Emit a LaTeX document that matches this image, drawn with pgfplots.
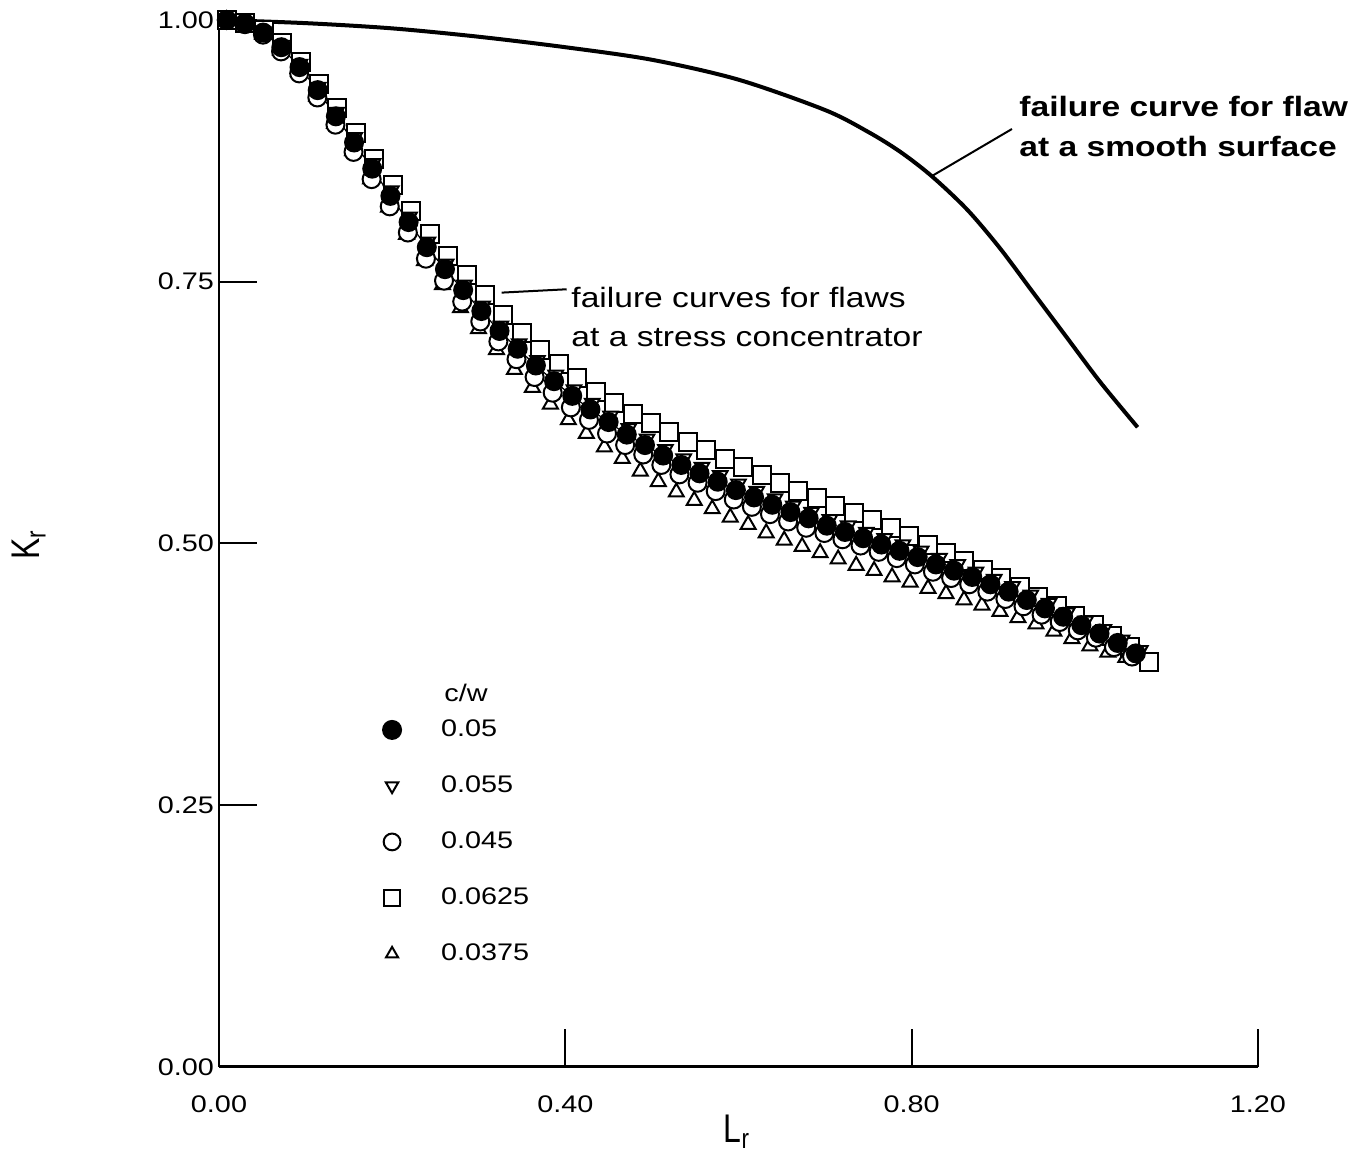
\documentclass[border=0pt]{standalone}
\usepackage{pgfplots}
\pgfplotsset{compat=1.18}
\usepackage{fontspec}
\setmainfont{Liberation Sans}[FakeStretch=1.2]
\newfontfamily\labfont{Liberation Sans}[FakeStretch=0.8]

\begin{document}
\begin{tikzpicture}
\begin{axis}[
  scale only axis, width=519.5pt, height=523.5pt,
  xmin=0, xmax=1.2, ymin=0, ymax=1,
  axis lines=left, axis line style={-, line width=1.5pt},
  clip=false,
  xtick={0,0.4,0.8,1.2}, ytick={0,0.25,0.5,0.75,1},
  tick align=inside, major tick length=19pt,
  tick style={line width=1pt, black},
  /pgf/number format/assume math mode=true,
  xticklabel={\pgfmathprintnumber[fixed,fixed zerofill,precision=2]{\tick}},
  yticklabel={\pgfmathprintnumber[fixed,fixed zerofill,precision=2]{\tick}},
  tick label style={font=\fontsize{12}{14}\selectfont},
  xticklabel style={yshift=-11pt},
  yticklabel style={xshift=1pt},
  xlabel={\labfont\fontsize{20}{22}\selectfont L\textsubscript{r}},
  ylabel={\labfont\fontsize{20}{22}\selectfont K\textsubscript{r}},
  xlabel style={at={(rel axis cs:0.4986,-0.0621)}, anchor=center},
  ylabel style={at={(rel axis cs:-0.183,0.4986)}, anchor=center},
  legend style={at={(axis cs:0.1895,0.3348)}, anchor=north west, draw=none, fill=none,
    inner sep=0pt, outer sep=0pt, row sep=14.5pt, column sep=19pt,
    font=\fontsize{12}{14}\selectfont,
    nodes={inner sep=1pt, text height=9pt, text depth=2.5pt}},
  legend cell align=left,
]
% bounding box of the picture
\path[draw=none] (axis cs:-0.25295,-0.0850) rectangle (axis cs:1.32479,1.0191);

% failure curve for flaw at a smooth surface
\addplot[smooth, line width=2pt, black, forget plot] coordinates {
(0,1.000) (0.1,0.997) (0.2,0.992) (0.3,0.984) (0.4,0.974) (0.5,0.962)
(0.6,0.943) (0.7,0.914) (0.75,0.893) (0.787,0.874) (0.823,0.851)
(0.864,0.819) (0.902,0.782) (0.940,0.740) (0.979,0.697) (1.018,0.654) (1.061,0.611)
};

% c/w = 0.0625 (squares)
\addplot[only marks, forget plot, mark=square*, mark size=4.5pt,
  mark options={fill=white, draw=black, line width=1pt}] table {
x y
0.0090 1.000
0.0303 0.997
0.0516 0.990
0.0729 0.978
0.0942 0.960
0.1155 0.939
0.1368 0.916
0.1581 0.892
0.1794 0.867
0.2007 0.842
0.2220 0.818
0.2433 0.796
0.2646 0.775
0.2859 0.756
0.3072 0.737
0.3285 0.718
0.3498 0.701
0.3711 0.685
0.3924 0.671
0.4137 0.658
0.4350 0.645
0.4563 0.634
0.4776 0.624
0.4989 0.615
0.5202 0.606
0.5415 0.597
0.5628 0.589
0.5841 0.581
0.6054 0.573
0.6267 0.565
0.6480 0.558
0.6693 0.550
0.6906 0.543
0.7119 0.536
0.7332 0.529
0.7545 0.522
0.7758 0.515
0.7971 0.507
0.8184 0.499
0.8397 0.491
0.8610 0.483
0.8823 0.475
0.9036 0.467
0.9249 0.458
0.9462 0.449
0.9675 0.440
0.9888 0.431
1.0101 0.422
1.0314 0.412
1.0527 0.401
1.0740 0.387
};

% c/w = 0.055 (inverted triangles)
\addplot[only marks, forget plot, mark=triangle*, mark size=4.2pt,
  mark options={fill=white, draw=black, line width=1pt, rotate=180}] table {
x y
0.0090 1.000
0.0302 0.997
0.0513 0.989
0.0724 0.976
0.0935 0.958
0.1146 0.936
0.1357 0.912
0.1568 0.888
0.1779 0.863
0.1990 0.837
0.2201 0.812
0.2412 0.788
0.2623 0.767
0.2834 0.747
0.3045 0.727
0.3256 0.708
0.3467 0.691
0.3678 0.675
0.3889 0.661
0.4100 0.647
0.4311 0.634
0.4522 0.622
0.4733 0.610
0.4944 0.600
0.5156 0.590
0.5367 0.581
0.5578 0.573
0.5789 0.565
0.6000 0.557
0.6211 0.550
0.6422 0.543
0.6633 0.536
0.6844 0.530
0.7055 0.523
0.7266 0.517
0.7477 0.511
0.7688 0.505
0.7899 0.499
0.8110 0.493
0.8321 0.486
0.8532 0.480
0.8743 0.473
0.8954 0.466
0.9165 0.459
0.9376 0.451
0.9587 0.443
0.9798 0.434
1.0009 0.426
1.0220 0.418
1.0431 0.408
1.0642 0.398
};

% c/w = 0.0375 (triangles)
\addplot[only marks, forget plot, mark=triangle*, mark size=4.3pt,
  mark options={fill=white, draw=black, line width=1pt}] table {
x y
0.0089 1.000
0.0297 0.996
0.0504 0.986
0.0712 0.971
0.0920 0.951
0.1128 0.927
0.1335 0.901
0.1543 0.875
0.1751 0.848
0.1958 0.821
0.2166 0.795
0.2374 0.770
0.2581 0.747
0.2789 0.725
0.2997 0.705
0.3205 0.685
0.3412 0.666
0.3620 0.649
0.3828 0.633
0.4035 0.618
0.4243 0.605
0.4451 0.592
0.4658 0.581
0.4866 0.569
0.5074 0.559
0.5282 0.549
0.5489 0.541
0.5697 0.533
0.5905 0.525
0.6112 0.518
0.6320 0.510
0.6528 0.503
0.6735 0.497
0.6943 0.491
0.7151 0.485
0.7359 0.479
0.7566 0.474
0.7774 0.468
0.7982 0.463
0.8189 0.457
0.8397 0.452
0.8605 0.446
0.8812 0.441
0.9020 0.435
0.9228 0.429
0.9436 0.423
0.9643 0.416
0.9851 0.409
1.0059 0.402
1.0266 0.396
1.0474 0.391
};

% c/w = 0.045 (open circles)
\addplot[only marks, forget plot, mark=*, mark size=4.5pt,
  mark options={fill=white, draw=black, line width=1pt}] table {
x y
0.0090 1.000
0.0299 0.996
0.0508 0.986
0.0717 0.970
0.0926 0.949
0.1136 0.926
0.1345 0.900
0.1554 0.874
0.1763 0.848
0.1972 0.822
0.2181 0.797
0.2390 0.772
0.2599 0.751
0.2809 0.731
0.3018 0.712
0.3227 0.693
0.3436 0.676
0.3645 0.659
0.3854 0.644
0.4064 0.630
0.4273 0.618
0.4482 0.605
0.4691 0.594
0.4900 0.585
0.5109 0.575
0.5318 0.566
0.5528 0.558
0.5737 0.550
0.5946 0.542
0.6155 0.535
0.6364 0.528
0.6573 0.521
0.6782 0.515
0.6992 0.510
0.7201 0.504
0.7410 0.498
0.7619 0.492
0.7828 0.486
0.8037 0.480
0.8246 0.473
0.8456 0.467
0.8665 0.461
0.8874 0.454
0.9083 0.447
0.9292 0.440
0.9501 0.432
0.9710 0.425
0.9919 0.417
1.0128 0.410
1.0337 0.401
1.0546 0.392
};

% c/w = 0.05 (filled circles)
\addplot[forget plot, black, line width=0.6pt, mark=*, mark size=4.5pt,
  mark options={fill=black, draw=black, line width=1pt}] table {
x y
0.009 1.000
0.030 0.997
0.051 0.988
0.072 0.974
0.093 0.955
0.114 0.933
0.135 0.908
0.156 0.883
0.177 0.858
0.198 0.832
0.219 0.807
0.240 0.783
0.261 0.762
0.282 0.742
0.303 0.722
0.324 0.703
0.345 0.686
0.366 0.670
0.387 0.655
0.408 0.641
0.429 0.628
0.450 0.616
0.471 0.604
0.492 0.594
0.513 0.584
0.534 0.575
0.555 0.567
0.576 0.559
0.597 0.551
0.618 0.544
0.639 0.537
0.660 0.530
0.681 0.524
0.702 0.517
0.723 0.511
0.744 0.505
0.765 0.499
0.786 0.493
0.807 0.487
0.828 0.480
0.849 0.474
0.870 0.468
0.891 0.461
0.912 0.454
0.933 0.446
0.954 0.438
0.975 0.430
0.996 0.422
1.017 0.414
1.038 0.405
1.059 0.395
};

% legend (in the order of the reference)
\addlegendimage{only marks, mark=*, mark size=4.5pt, mark options={fill=black, draw=black, line width=1pt}}
\addlegendentry{0.05}
\addlegendimage{only marks, mark=triangle*, mark size=3.6pt, mark options={fill=white, draw=black, line width=1pt, rotate=180}}
\addlegendentry{0.055}
\addlegendimage{only marks, mark=*, mark size=4.2pt, mark options={fill=white, draw=black, line width=1pt}}
\addlegendentry{0.045}
\addlegendimage{only marks, mark=square*, mark size=4pt, mark options={fill=white, draw=black, line width=1pt}}
\addlegendentry{0.0625}
\addlegendimage{only marks, mark=triangle*, mark size=3.5pt, mark options={fill=white, draw=black, line width=1pt}}
\addlegendentry{0.0375}

% annotations
\draw[line width=1pt] (axis cs:0.8235,0.851) -- (axis cs:0.9159,0.8959);
\node[anchor=west, align=left, inner sep=0pt, font=\bfseries\fontsize{14}{20}\selectfont]
  at (axis cs:0.924,0.8978) {failure curve for flaw\\at a smooth surface};
\draw[line width=1pt] (axis cs:0.3265,0.7396) -- (axis cs:0.4016,0.7428);
\node[anchor=west, align=left, inner sep=0pt, font=\fontsize{14}{19.5}\selectfont]
  at (axis cs:0.4066,0.7159) {failure curves for flaws\\at a stress concentrator};
\node[anchor=west, inner sep=0pt, font=\fontsize{12}{14}\selectfont]
  at (axis cs:0.2599,0.3572) {c/w};
\end{axis}
\end{tikzpicture}
\end{document}
